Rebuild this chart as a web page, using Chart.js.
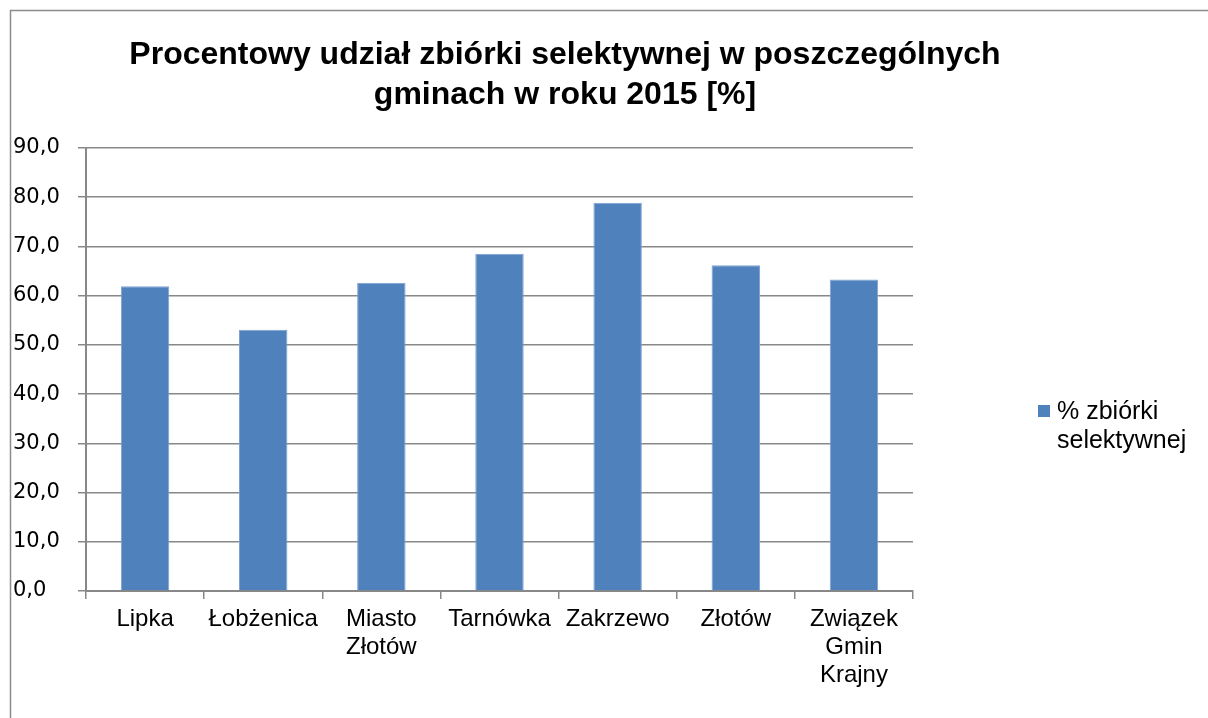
<!DOCTYPE html>
<html>
<head>
<meta charset="utf-8">
<script src="https://cdn.jsdelivr.net/npm/chart.js@4/dist/chart.umd.min.js"></script>
<style>
html,body{margin:0;padding:0;background:#fff;}
#wrap{width:1208px;height:718px;position:relative;}
</style>
</head>
<body>
<div id="wrap"><canvas id="c" width="1208" height="718"></canvas></div>
<script>
const titleLines = ["Procentowy udział zbiórki selektywnej w poszczególnych", "gminach w roku 2015 [%]"];
const categories = ["Lipka", "Łobżenica", ["Miasto", "Złotów"], "Tarnówka", "Zakrzewo", "Złotów", ["Związek", "Gmin", "Krajny"]];
const seriesName = ["% zbiórki", "selektywnej"];
const values = [61.9, 53.1, 62.6, 68.5, 78.9, 66.2, 63.3];
const yMin = 0, yMax = 90, yStep = 10;

const barColor = "#4F81BD";
const gridColor = "#888888";

const decorPlugin = {
  id: "decor",
  beforeDraw(chart) {
    const ctx = chart.ctx;
    ctx.save();
    ctx.fillStyle = "#fff";
    ctx.fillRect(0, 0, chart.width, chart.height);
    ctx.strokeStyle = "#8c8c8c";
    ctx.lineWidth = 1.5;
    ctx.beginPath();
    ctx.moveTo(10.5, 740);
    ctx.lineTo(10.5, 10.5);
    ctx.lineTo(1230, 10.5);
    ctx.stroke();
    ctx.restore();
  },
  afterDraw(chart) {
    const ctx = chart.ctx;
    ctx.save();
    // title
    ctx.fillStyle = "#000";
    ctx.font = "bold 32px 'Liberation Sans', Arial, sans-serif";
    ctx.textAlign = "center";
    ctx.textBaseline = "middle";
    ctx.fillText(titleLines[0], 565, 55);
    ctx.fillText(titleLines[1], 565, 95);
    // legend
    ctx.fillStyle = barColor;
    ctx.fillRect(1038, 405, 12, 12);
    ctx.fillStyle = "#000";
    ctx.font = "25px 'Liberation Sans', Arial, sans-serif";
    ctx.textAlign = "left";
    ctx.fillText(seriesName[0], 1057, 412);
    ctx.fillText(seriesName[1], 1057, 441);
    ctx.restore();
  }
};

new Chart(document.getElementById("c"), {
  type: "bar",
  data: {
    labels: categories,
    datasets: [{
      label: seriesName.join(" "),
      data: values,
      backgroundColor: barColor,
      borderColor: "#7FA3D0",
      borderWidth: {top: 1, left: 1, right: 1, bottom: 0},
      categoryPercentage: 1.0,
      barPercentage: 0.41
    }]
  },
  options: {
    responsive: false,
    animation: false,
    devicePixelRatio: 1,
    layout: { padding: { left: 13, right: 295, top: 148, bottom: 0 } },
    plugins: {
      legend: { display: false },
      title: { display: false },
      tooltip: { enabled: false }
    },
    scales: {
      x: {
        offset: true,
        grid: {
          offset: true,
          drawOnChartArea: false,
          drawTicks: true,
          tickLength: 8,
          color: gridColor,
          lineWidth: 1.5
        },
        border: { color: gridColor, width: 2 },
        ticks: {
          color: "#000",
          font: { family: "'Liberation Sans', Arial, sans-serif", size: 24, lineHeight: 1.17 },
          padding: 6,
          maxRotation: 0,
          autoSkip: false
        },
        afterFit(scale) { scale.height = 127; }
      },
      y: {
        min: yMin,
        max: yMax,
        grid: {
          color: gridColor,
          lineWidth: 1.5,
          drawTicks: true,
          tickLength: 8
        },
        border: { color: gridColor, width: 2 },
        ticks: {
          stepSize: yStep,
          color: "#000",
          crossAlign: "far",
          padding: 4,
          font: { family: "'DejaVu Sans', Verdana, sans-serif", size: 21 },
          callback: (v) => v.toFixed(1).replace(".", ",")
        },
        afterFit(scale) { scale.width = 73; }
      }
    }
  },
  plugins: [decorPlugin]
});
</script>
</body>
</html>
